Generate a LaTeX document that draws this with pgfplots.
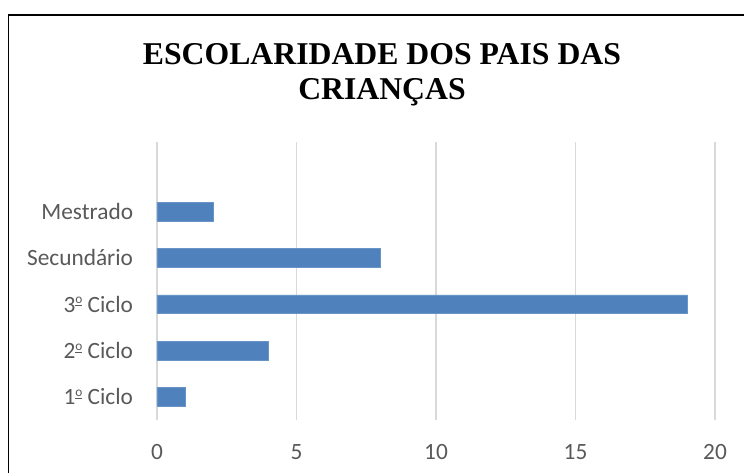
\documentclass[border=0pt]{standalone}
\usepackage{fontspec}
\setmainfont{Carlito}
\newfontfamily\titlefont{Liberation Serif}
\usepackage{pgfplots}
\pgfplotsset{compat=1.18}

\definecolor{barblue}{HTML}{4F81BD}
\definecolor{labelgray}{HTML}{595959}
\definecolor{gridgray}{HTML}{D9D9D9}

% ordinal sign drawn like Calibri's (small raised o over a bar)
\newcommand{\ordo}{\makebox[0pt][l]{\raisebox{4.3pt}{\rule{5.3pt}{0.8pt}}}\raisebox{6.3pt}{\fontsize{10}{10}\selectfont o}}

\begin{document}
\begin{tikzpicture}
% page = 744 x 473 px at 0.75pt per px
\path[use as bounding box] (0pt,0pt) rectangle (558pt,354.75pt);
\draw[line width=1pt] (6.5pt,0pt) -- (6.5pt,343.5pt) -- (558pt,343.5pt);

\node[anchor=base, font=\titlefont\bfseries\fontsize{23.8}{26.8}\selectfont] at (286.5pt,306.5pt) {ESCOLARIDADE DOS PAIS DAS};
\node[anchor=base, font=\titlefont\bfseries\fontsize{23.8}{26.8}\selectfont] at (286.5pt,279.75pt) {CRIANÇAS};

\begin{axis}[
    at={(117.75pt,39.75pt)}, anchor=south west,
    scale only axis,
    width=418.5pt, height=208.5pt,
    xbar,
    bar width=14pt,
    xmin=0, xmax=20,
    ymin=0.5, ymax=6.5,
    xtick={0,5,...,20},
    ytick={1,2,3,4,5},
    yticklabels={1\ordo{} Ciclo, 2\ordo{} Ciclo, 3\ordo{} Ciclo, Secundário, Mestrado},
    axis line style={draw=none},
    tick style={draw=none},
    xmajorgrids,
    major grid style={gridgray, line width=1pt},
    ticklabel style={font=\fontsize{17.5}{21}\selectfont, text=labelgray, inner sep=0pt},
    /pgf/number format/assume math mode=true,
    yticklabel shift=13.5pt,
    xticklabel shift=18pt,
]
\addplot[fill=barblue, draw=barblue!85!white] coordinates {(1,1) (4,2) (19,3) (8,4) (2,5)};
\end{axis}
\end{tikzpicture}
\end{document}
